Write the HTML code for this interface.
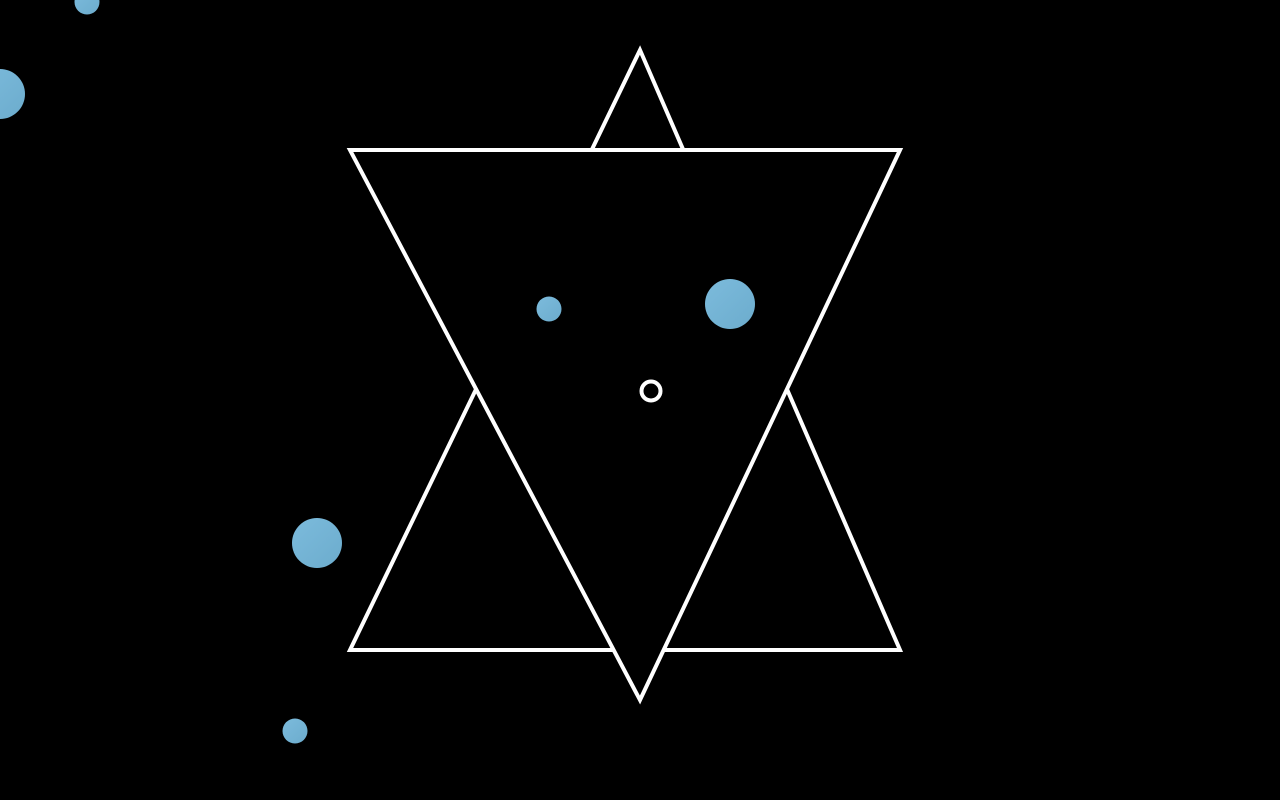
<!DOCTYPE html>
<html>
<head>
<meta charset="utf-8">
<style>
  html,body{margin:0;padding:0;background:#000;width:1280px;height:800px;overflow:hidden;}
  svg{display:block;}
</style>
</head>
<body>
<svg id="scene" width="1280" height="800" viewBox="0 0 1280 800" xmlns="http://www.w3.org/2000/svg">
  <defs>
    <linearGradient id="dotGrad" x1="0" y1="0" x2="1" y2="1">
      <stop offset="0" stop-color="#7cbbdc"/>
      <stop offset="1" stop-color="#6caccd"/>
    </linearGradient>
  </defs>
  <rect width="1280" height="800" fill="#000"/>
  <polygon points="640,50 350,650 900,650" fill="none" stroke="#fff" stroke-width="4" stroke-linejoin="miter"/>
  <polygon points="350,150 900,150 640,700" fill="#000" stroke="#fff" stroke-width="4" stroke-linejoin="miter"/>
  <circle cx="651" cy="391" r="9.5" fill="none" stroke="#fff" stroke-width="4"/>
  <g id="dots"></g>
</svg>
<script>
const dotX = [87, 0, 549, 730, 317, 295];
const dotY = [2, 94, 309, 304, 543, 731];
const dotR = [12.5, 25, 12.5, 25, 25, 12.5];
const g = document.getElementById('dots');
for (let i = 0; i < dotX.length; i++) {
  const c = document.createElementNS('http://www.w3.org/2000/svg', 'circle');
  c.setAttribute('cx', dotX[i]);
  c.setAttribute('cy', dotY[i]);
  c.setAttribute('r', dotR[i]);
  c.setAttribute('fill', 'url(#dotGrad)');
  
  
  g.appendChild(c);
}
</script>
</body>
</html>
